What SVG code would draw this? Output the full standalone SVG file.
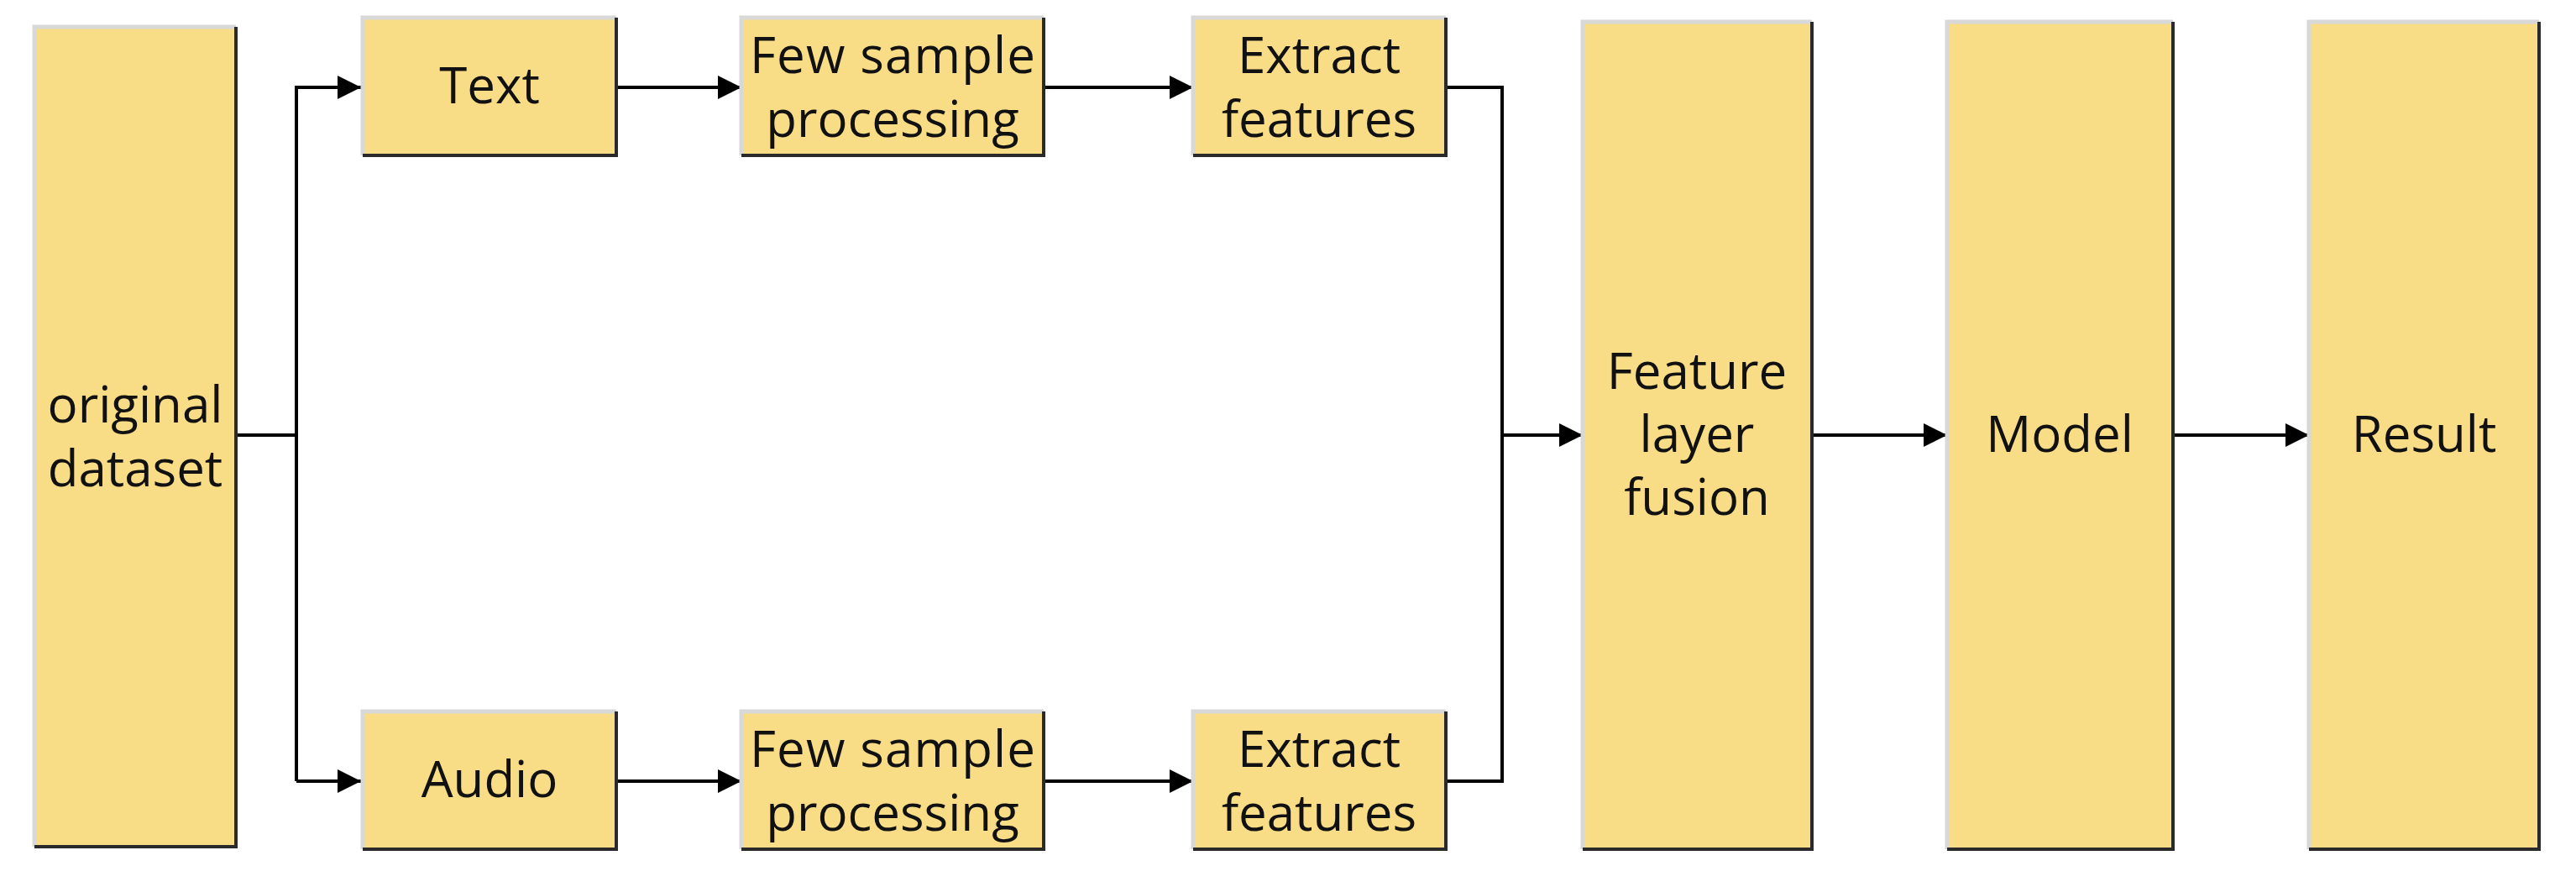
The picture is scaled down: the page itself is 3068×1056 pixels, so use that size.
<svg xmlns="http://www.w3.org/2000/svg" width="3068" height="1056" viewBox="0 0 3068 1056">
<defs>
<style>
.b{fill:#F9DD86}
.e{fill:none;stroke:#2a2a2a;stroke-width:4}
.s{fill:none;stroke:#d8d8d8;stroke-width:5}
.t{font-family:"Open Sans","Noto Sans",sans-serif;font-size:60px;fill:#111;text-anchor:middle;dominant-baseline:central}
.c{fill:none;stroke:#000;stroke-width:4}
</style>
<linearGradient id="g" x1="0" y1="0" x2="1" y2="1">
<stop offset="0" stop-color="#FBE28E"/><stop offset="0.5" stop-color="#F8D97F"/><stop offset="1" stop-color="#FAE08A"/>
</linearGradient>
<marker id="a" viewBox="0 0 10 10" refX="10" refY="5" markerWidth="7" markerHeight="8" markerUnits="strokeWidth" orient="auto"><path d="M0,0L10,5L0,10z" fill="#000"/></marker>
</defs>
<g id="connectors">
<path class="c" d="M281,518H353"/>
<path class="c" d="M353,930V104H430" marker-end="url(#a)"/>
<path class="c" d="M353,930H430" marker-end="url(#a)"/>
<path class="c" d="M734,104H883" marker-end="url(#a)"/>
<path class="c" d="M734,930H883" marker-end="url(#a)"/>
<path class="c" d="M1243,104H1421" marker-end="url(#a)"/>
<path class="c" d="M1243,930H1421" marker-end="url(#a)"/>
<path class="c" d="M1722,104H1789V930H1722"/>
<path class="c" d="M1789,518H1885" marker-end="url(#a)"/>
<path class="c" d="M2158,518H2319" marker-end="url(#a)"/>
<path class="c" d="M2588,518H2750" marker-end="url(#a)"/>
</g>
<g id="n-orig"><rect class="b" fill="url(#g)" x="41" y="32" width="240" height="976"/><path class="s" d="M41,1008V32H281"/><path class="e" d="M281,32V1008H41"/><text class="t" x="161" y="480">original</text><text class="t" x="161" y="556">dataset</text></g>
<g id="n-text"><rect class="b" x="432" y="21" width="302" height="164"/><path class="s" d="M432,185V21H734"/><path class="e" d="M734,21V185H432"/><text class="t" x="583" y="100">Text</text></g>
<g id="n-audio"><rect class="b" x="432" y="847" width="302" height="164"/><path class="s" d="M432,1011V847H734"/><path class="e" d="M734,847V1011H432"/><text class="t" x="583" y="926">Audio</text></g>
<g id="n-few1"><rect class="b" x="883" y="21" width="360" height="164"/><path class="s" d="M883,185V21H1243"/><path class="e" d="M1243,21V185H883"/><text class="t" x="1063" y="64" textLength="340">Few sample</text><text class="t" x="1063" y="140">processing</text></g>
<g id="n-few2"><rect class="b" x="883" y="847" width="360" height="164"/><path class="s" d="M883,1011V847H1243"/><path class="e" d="M1243,847V1011H883"/><text class="t" x="1063" y="890" textLength="340">Few sample</text><text class="t" x="1063" y="966">processing</text></g>
<g id="n-ext1"><rect class="b" x="1421" y="21" width="301" height="164"/><path class="s" d="M1421,185V21H1722"/><path class="e" d="M1722,21V185H1421"/><text class="t" x="1571" y="64">Extract</text><text class="t" x="1571" y="140">features</text></g>
<g id="n-ext2"><rect class="b" x="1421" y="847" width="301" height="164"/><path class="s" d="M1421,1011V847H1722"/><path class="e" d="M1722,847V1011H1421"/><text class="t" x="1571" y="890">Extract</text><text class="t" x="1571" y="966">features</text></g>
<g id="n-fusion"><rect class="b" fill="url(#g)" x="1885" y="26" width="273" height="985"/><path class="s" d="M1885,1011V26H2158"/><path class="e" d="M2158,26V1011H1885"/><text class="t" x="2021" y="440">Feature</text><text class="t" x="2021" y="515">layer</text><text class="t" x="2021" y="590">fusion</text></g>
<g id="n-model"><rect class="b" fill="url(#g)" x="2319" y="26" width="269" height="985"/><path class="s" d="M2319,1011V26H2588"/><path class="e" d="M2588,26V1011H2319"/><text class="t" x="2453" y="515">Model</text></g>
<g id="n-result"><rect class="b" fill="url(#g)" x="2750" y="26" width="274" height="985"/><path class="s" d="M2750,1011V26H3024"/><path class="e" d="M3024,26V1011H2750"/><text class="t" x="2887" y="515">Result</text></g>
</svg>
